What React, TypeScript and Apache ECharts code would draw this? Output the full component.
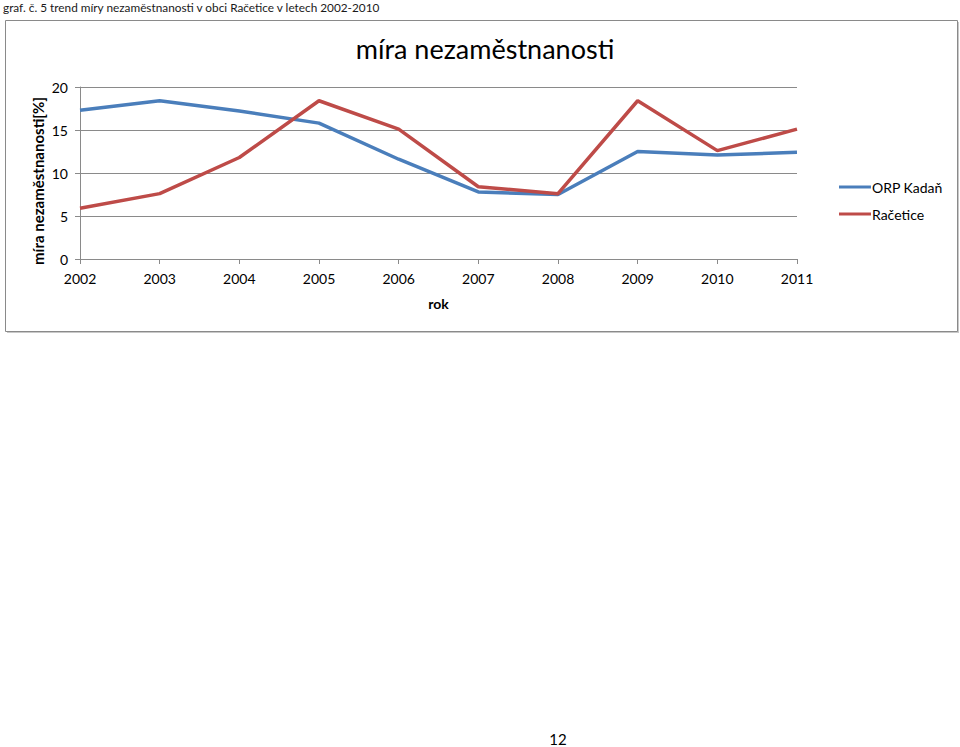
import React, { useEffect, useRef } from "react";
import * as echarts from "echarts";

const years = ["2002", "2003", "2004", "2005", "2006", "2007", "2008", "2009", "2010", "2011"];
const orpKadan = [17.3, 18.4, 17.2, 15.8, 11.6, 7.8, 7.5, 12.5, 12.1, 12.4];
const racetice = [5.9, 7.6, 11.8, 18.4, 15.1, 8.4, 7.6, 18.4, 12.6, 15.1];
const seriesNames = ["ORP Kadaň", "Račetice"];
const caption = "graf. č. 5 trend míry nezaměstnanosti v obci Račetice v letech 2002-2010";
const chartTitle = "míra nezaměstnanosti";
const yAxisName = "míra nezaměstnanosti[%]";
const xAxisName = "rok";
const pageNumber = "12";

const FONT = "Lato, 'Open Sans', sans-serif";

export default function App() {
  const ref = useRef<HTMLDivElement>(null);
  useEffect(() => {
    if (!ref.current) return;
    const chart = echarts.init(ref.current, undefined, { renderer: "svg" });
    chart.setOption({
      animation: false,
      backgroundColor: "#ffffff",
      textStyle: { fontFamily: FONT },
      title: {
        text: chartTitle,
        left: 480,
        top: 30,
        textAlign: "center",
        textStyle: { fontFamily: FONT, fontSize: 27, fontWeight: "normal", color: "#000" },
      },
      graphic: [
        {
          type: "rect",
          shape: { x: 7, y: 22, width: 952, height: 311 },
          style: { fill: "#c8c8c8", stroke: "none" },
          z: -2,
        },
        {
          type: "rect",
          shape: { x: 5.5, y: 20.5, width: 952, height: 311 },
          style: { fill: "#fff", stroke: "#8a8a8a", lineWidth: 1 },
          z: -1,
        },
        {
          type: "text",
          x: 3,
          y: 1,
          style: { text: caption, fontFamily: FONT, fontSize: 11.8, fill: "#1a1a1a" },
        },
        {
          type: "text",
          x: 38,
          y: 181,
          rotation: Math.PI / 2,
          style: {
            text: yAxisName,
            fontFamily: FONT,
            fontSize: 15,
            fontWeight: "bold",
            fill: "#000",
            align: "center",
            verticalAlign: "middle",
          },
        },
        {
          type: "text",
          x: 558,
          y: 731,
          style: { text: pageNumber, fontFamily: FONT, fontSize: 15, fill: "#000", align: "center" },
        },
      ],
      legend: {
        orient: "vertical",
        left: 834,
        top: 175,
        itemWidth: 32,
        itemHeight: 3,
        itemGap: 13,
        icon: "rect",
        textStyle: { fontFamily: FONT, fontSize: 14, color: "#000", padding: [0, 0, 0, -4] },
        data: seriesNames,
      },
      grid: { left: 80, right: 163, top: 87, bottom: 488 },
      xAxis: {
        type: "category",
        data: years,
        boundaryGap: false,
        name: xAxisName,
        nameLocation: "middle",
        nameGap: 37,
        nameTextStyle: { fontFamily: FONT, fontSize: 14, fontWeight: "bold", color: "#000" },
        axisLine: { lineStyle: { color: "#8a8a8a", width: 1 } },
        axisTick: { show: true, length: 5, alignWithLabel: true, lineStyle: { color: "#8a8a8a" } },
        axisLabel: { fontFamily: FONT, fontSize: 14, color: "#000", margin: 12 },
      },
      yAxis: {
        type: "value",
        min: 0,
        max: 20,
        interval: 5,
        axisLine: { show: true, lineStyle: { color: "#8a8a8a", width: 1 } },
        axisTick: { show: true, length: 5, lineStyle: { color: "#8a8a8a" } },
        axisLabel: { fontFamily: FONT, fontSize: 14, color: "#000", margin: 12 },
        splitLine: { lineStyle: { color: "#8a8a8a", width: 1 } },
      },
      series: [
        {
          name: seriesNames[0],
          type: "line",
          data: orpKadan,
          symbol: "none",
          lineStyle: { color: "#4A7EBB", width: 3.5 },
          itemStyle: { color: "#4A7EBB" },
          z: 2,
        },
        {
          name: seriesNames[1],
          type: "line",
          data: racetice,
          symbol: "none",
          lineStyle: { color: "#BE4B48", width: 3.5 },
          itemStyle: { color: "#BE4B48" },
          z: 3,
        },
      ],
    });
    return () => chart.dispose();
  }, []);
  return (
    <div
      ref={ref}
      style={{ position: "absolute", left: 0, top: 0, width: 960, height: 747 }}
    />
  );
}
